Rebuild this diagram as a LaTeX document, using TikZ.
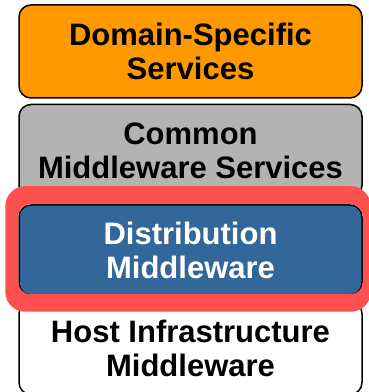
\documentclass[tikz,border=0pt]{standalone}
\usepackage{fontspec}
\setmainfont{Liberation Sans}
\usetikzlibrary{positioning}
\definecolor{dsorange}{HTML}{FF9900}
\definecolor{cmgray}{HTML}{B3B3B3}
\definecolor{dmblue}{HTML}{336699}
\definecolor{hilite}{HTML}{FF5050}

\begin{document}
\begin{tikzpicture}[x=1pt,y=1pt,node distance=5pt,
  layer/.style={draw=black,line width=1.5pt,rounded corners=12pt,minimum width=343pt,
    inner sep=0pt,align=center,font=\fontsize{31}{34}\selectfont\bfseries}]
\useasboundingbox (0,0) rectangle (369,392);
\node[layer,fill=dsorange,minimum height=93pt] (dss) at (190.5,340.5) {Domain-Specific\\Services};
\node[layer,fill=cmgray,minimum height=93pt,below=of dss] (cms) {Common\\Middleware Services};
\node[layer,fill=dmblue,text=white,minimum height=90pt,below=6pt of cms] (dm) {Distribution\\Middleware};
\node[layer,fill=white,minimum height=93pt,below=of dm] (him) {Host Infrastructure\\Middleware};
% highlight ring round the distribution layer
\fill[hilite,even odd rule]
  [rounded corners=20pt] ([shift={(-13,18)}]dm.north west) rectangle ([shift={(8,-16)}]dm.south east)
  [rounded corners=12pt] ([shift={(0,0)}]dm.north west) rectangle ([shift={(0,1.5)}]dm.south east);
\end{tikzpicture}
\end{document}
